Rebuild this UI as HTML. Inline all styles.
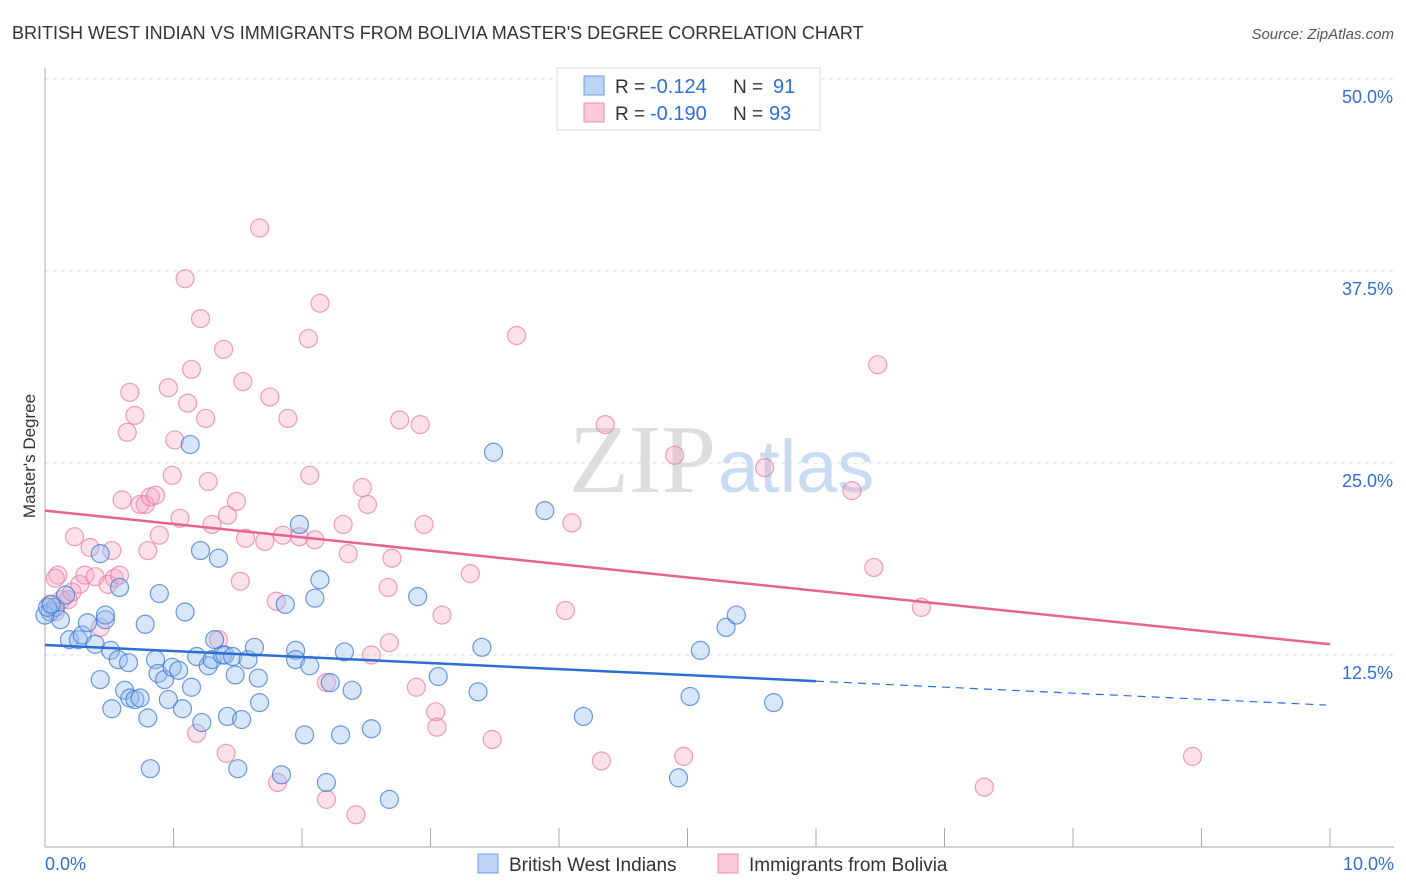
<!DOCTYPE html>
<html><head><meta charset="utf-8">
<style>
body{margin:0;background:#fff;font-family:"Liberation Sans",sans-serif;}
#wrap{position:relative;width:1406px;height:892px;overflow:hidden;}
</style></head>
<body>
<div id="wrap">
<svg id="chart" width="1406" height="892" xmlns="http://www.w3.org/2000/svg">
<text x="12" y="39" font-size="18" fill="#333">BRITISH WEST INDIAN VS IMMIGRANTS FROM BOLIVIA MASTER'S DEGREE CORRELATION CHART</text>
<text x="1394" y="39" font-size="15" fill="#555" font-style="italic" text-anchor="end">Source: ZipAtlas.com</text>
<text x="35" y="456" font-size="17" fill="#333" text-anchor="middle" transform="rotate(-90 35 456)">Master's Degree</text>
<g id="grid"></g>
<text x="716" y="492" font-size="98" fill="#ddd" font-family="Liberation Serif" text-anchor="end">ZIP</text>
<text x="718" y="492" font-size="74" fill="#c9dbf0">atlas</text>
<g id="pts"></g>
<g id="lines"></g>
<g>
<rect x="557" y="68" width="263" height="62" fill="#fff" stroke="#ddd"/>
<rect x="584" y="76" width="20" height="19" fill="#bcd4f5" stroke="#6d9ae0"/>
<rect x="584" y="103" width="20" height="19" fill="#fbc9d8" stroke="#eb8fae"/>
<text x="615" y="93" font-size="19" fill="#333">R =</text>
<text x="650" y="93" font-size="20" fill="#2f6fd6">-0.124</text>
<text x="733" y="93" font-size="19" fill="#333">N =</text>
<text x="773" y="93" font-size="20" fill="#2f6fd6">91</text>
<text x="615" y="120" font-size="19" fill="#333">R =</text>
<text x="650" y="120" font-size="20" fill="#2f6fd6">-0.190</text>
<text x="733" y="120" font-size="19" fill="#333">N =</text>
<text x="769" y="120" font-size="20" fill="#2f6fd6">93</text>
</g>
<g>
<rect x="478" y="854" width="20" height="19" fill="#bcd4f5" stroke="#6d9ae0"/>
<text x="509" y="871" font-size="19" fill="#333">British West Indians</text>
<rect x="718" y="854" width="20" height="19" fill="#fbc9d8" stroke="#eb8fae"/>
<text x="749" y="871" font-size="19" fill="#333">Immigrants from Bolivia</text>
</g>
<text x="45" y="870" font-size="18" fill="#2f6fd6">0.0%</text>
<text x="1394" y="870" font-size="18" fill="#2f6fd6" text-anchor="end">10.0%</text>
</svg>
</div>
<script>
const yTicks=[12.5,25,37.5,50];
const yTickLabels=["12.5%","25.0%","37.5%","50.0%"];
const xTicks=[0,1,2,3,4,5,6,7,8,9,10];
const blueX=[.04,.08,.12,.16,.19,.26,.29,.33,.39,.43,.47,.43,.47,.51,.52,.57,.58,.62,.65,.66,.70,.74,.78,.80,.82,.86,.88,.89,.93,.96,.99,1.04,1.07,1.09,1.13,1.14,1.18,1.21,1.22,1.27,1.30,1.32,1.35,1.38,1.40,1.42,1.46,1.48,1.50,1.53,1.58,1.63,1.66,1.67,1.84,1.87,1.95,1.95,1.98,2.02,2.06,2.10,2.14,2.19,2.22,2.30,2.33,2.39,2.54,2.68,2.90,3.06,3.37,3.40,3.49,3.89,4.19,4.93,5.02,5.10,5.30,5.38,5.67,0,.02,.05];
const blueY=[15.3,15.6,14.8,16.4,13.5,13.5,13.8,14.6,13.2,10.9,14.8,19.1,15.1,12.8,9.0,12.2,16.9,10.2,12.0,9.7,9.6,9.7,14.5,8.4,5.1,12.2,11.3,16.5,10.9,9.6,11.7,11.5,9.0,15.3,26.2,10.4,12.4,19.3,8.1,11.8,12.2,13.5,18.8,12.5,12.5,8.5,12.4,11.2,5.1,8.3,12.2,13.0,11.0,9.4,4.7,15.8,12.8,12.2,21.0,7.3,11.8,16.2,17.4,4.2,10.7,7.3,12.7,10.2,7.7,3.1,16.3,11.1,10.1,13.0,25.7,21.9,8.5,4.5,9.8,12.8,14.3,15.1,9.4,15.1,15.6,15.8];
const pinkX=[.04,.08,.10,.13,.18,.21,.23,.27,.31,.35,.39,.43,.49,.52,.54,.58,.60,.64,.66,.70,.74,.78,.80,.82,.86,.89,.96,.99,1.01,1.05,1.09,1.11,1.14,1.18,1.21,1.25,1.27,1.30,1.35,1.39,1.41,1.42,1.49,1.52,1.54,1.56,1.67,1.71,1.75,1.80,1.81,1.85,1.89,1.98,2.05,2.06,2.10,2.14,2.19,2.19,2.32,2.36,2.42,2.47,2.51,2.54,2.67,2.70,2.68,2.76,2.89,2.92,2.95,3.04,3.05,3.09,3.31,3.48,3.67,4.05,4.10,4.33,4.36,4.90,4.97,5.60,6.28,6.45,6.48,6.82,7.31,8.93,.08];
const pinkY=[15.8,15.3,17.7,16.1,16.1,16.6,20.2,17.1,17.7,19.5,17.6,14.3,17.1,19.3,17.5,17.7,22.6,27.0,29.6,28.1,22.3,22.3,19.3,22.8,22.9,20.3,29.9,24.2,26.5,21.4,37.0,28.9,31.1,7.4,34.4,27.9,23.8,21.0,13.5,32.4,6.1,21.6,22.5,17.3,30.3,20.1,40.3,19.9,29.3,16.0,4.2,20.3,27.9,20.2,33.1,24.2,20.0,35.4,3.1,10.7,21.0,19.1,2.1,23.4,22.3,12.5,16.9,18.8,13.3,27.8,10.4,27.5,21.0,8.8,7.8,15.1,17.8,7.0,33.3,15.4,21.1,5.6,27.5,25.5,5.9,24.7,23.2,18.2,31.4,15.6,3.9,5.9,17.5];
const blueTrend=[13.15,-0.392];
const pinkTrend=[21.9,-0.87];
const blueSolidEnd=6.0, blueDashEnd=9.97;

const X=v=>45+v*128.5;
const Y=v=>847-v*15.36;
const NS="http://www.w3.org/2000/svg";
function mk(tag,attrs,parent){const e=document.createElementNS(NS,tag);for(const k in attrs)e.setAttribute(k,attrs[k]);parent.appendChild(e);return e;}
const grid=document.getElementById('grid');
yTicks.forEach((t,i)=>{
  const l=mk('line',{x1:45,x2:1394,y1:Y(t),y2:Y(t),stroke:'#ddd','stroke-dasharray':'4,4'},grid);
  
  
  const tx=mk('text',{x:1393,y:Y(t)+24,'font-size':18,fill:'#2f6fd6','text-anchor':'end'},grid);
  tx.textContent=yTickLabels[i];
  
  
});
const ax=mk('line',{x1:45,x2:45,y1:68,y2:847,stroke:'#aaa'},grid);


const bx=mk('line',{x1:45,x2:1394,y1:847,y2:847,stroke:'#aaa'},grid);


xTicks.forEach(t=>{
  const l=mk('line',{x1:X(t),x2:X(t),y1:828,y2:847,stroke:'#aaa'},grid);
  
  
});
const pts=document.getElementById('pts');
function drawPts(xs,ys,fill,stroke,name){
  xs.forEach((x,i)=>{
    const c=mk('circle',{cx:X(x),cy:Y(ys[i]),r:9,fill:fill,stroke:stroke,'stroke-width':1.2},pts);
    
    
  });
}
drawPts(pinkX,pinkY,'rgba(246,160,190,0.33)','rgba(230,120,160,0.7)','bolivia-point');
drawPts(blueX,blueY,'rgba(150,190,240,0.38)','rgba(60,120,210,0.75)','british-west-indian-point');
const lines=document.getElementById('lines');
const f=(tr,x)=>tr[0]+tr[1]*x;
const pl=mk('line',{x1:X(0),y1:Y(f(pinkTrend,0)),x2:X(10),y2:Y(f(pinkTrend,10)),stroke:'#e8638f','stroke-width':2.5},lines);


const bl=mk('line',{x1:X(0),y1:Y(f(blueTrend,0)),x2:X(blueSolidEnd),y2:Y(f(blueTrend,blueSolidEnd)),stroke:'#2b6fd4','stroke-width':2.5},lines);


const bd=mk('line',{x1:X(blueSolidEnd),y1:Y(f(blueTrend,blueSolidEnd)),x2:X(blueDashEnd),y2:Y(f(blueTrend,blueDashEnd)),stroke:'#2b6fd4','stroke-width':1.2,'stroke-dasharray':'8,6'},lines);


</script>
</body></html>
